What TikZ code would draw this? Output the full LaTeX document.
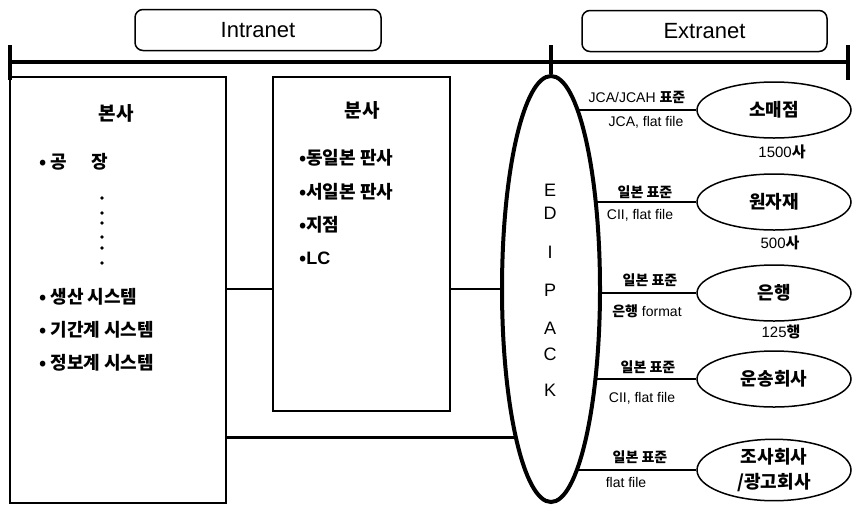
\documentclass[tikz,border=0pt]{standalone}
\usepackage{fontspec}
\setmainfont{Liberation Sans}
\newfontfamily\kr{Noto Sans CJK KR}
\newcommand{\kor}[1]{{\kr\bfseries #1}}
\usetikzlibrary{shapes.geometric}

\begin{document}
\begin{tikzpicture}[x=1pt,y=-1pt,
	netbox/.style={draw,line width=1.5pt,rounded corners=8pt,minimum width=246pt,minimum height=41pt,font=\fontsize{22}{24}\selectfont},
	site/.style={draw,line width=2pt,inner sep=0pt},
	bus/.style={line width=3.5pt},
	link/.style={line width=2.8pt},
	partner/.style={draw,ellipse,line width=1.5pt,minimum width=154pt,minimum height=56pt,inner sep=0pt,align=center,font=\kr\bfseries\fontsize{18}{25}\selectfont},
	head/.style={font=\kr\bfseries\fontsize{19}{22}\selectfont},
	item/.style={anchor=west,inner sep=0pt,font=\kr\bfseries\fontsize{18}{22}\selectfont},
	std/.style={inner sep=0pt,font=\kr\bfseries\fontsize{14}{16}\selectfont},
	fmt/.style={inner sep=0pt,font=\fontsize{14}{16}\selectfont},
	cnt/.style={inner sep=0pt,font=\fontsize{15}{17}\selectfont},
	edl/.style={inner sep=0pt,font=\fontsize{18}{20}\selectfont}]
	\useasboundingbox (0,0) rectangle (853,504);

	%network bus
	\coordinate (busL) at (10,62);
	\coordinate (busR) at (848,62);
	\draw[bus] (busL) -- (busR);
	\draw[bus] ([yshift=17pt]busL) -- ([yshift=-18pt]busL);
	\draw[bus] ([yshift=17pt]busR) -- ([yshift=-18pt]busR);
	\node[netbox] (intra) at (258,30) {Intranet};
	\node[netbox,minimum width=245pt] (extra) at (704.5,31) {Extranet};

	%boxes
	\node[site,minimum width=216pt,minimum height=426pt] (hq) at (118,290) {};
	\node[site,minimum width=177pt,minimum height=334pt] (br) at (361.5,244) {};
	\node[draw,ellipse,line width=4pt,minimum width=98pt,minimum height=426pt,inner sep=0pt] (edi) at (551,289) {};
	\draw[bus] (edi.north) -- ([yshift=17pt]edi.north |- busL);

	%partner ellipses
	\node[partner] (r1) at (774,110) {소매점};
	\node[partner] (r2) at (774,202) {원자재};
	\node[partner] (r3) at (774,293) {은행};
	\node[partner] (r4) at (774,379) {운송회사};
	\node[partner] (r5) at (774,470) {조사회사\\/광고회사};

	%connectors
	\draw[link] (hq.east |- edi.west) -- (br.west |- edi.west);
	\draw[link] (br.east |- edi.west) -- (edi.west);
	\draw[link] (hq.east |- edi.256) -- (edi.256);
	\foreach \p/\a in {r1/82,r2/63,r3/355,r4/296,r5/278}
		\draw[link] (\p.west) -- (\p.west -| edi.\a);

	%EDIPACK
	\foreach \ltr/\yy in {E/190,D/213,I/252,P/290,A/328,C/354,K/390}
		\node[edl] (edi-\ltr) at (550,\yy) {\ltr};

	%head office
	\node[head] (hq-title) at (116,113) {본사};
	\node[item] (hq-a) at (39,162) {• 공\hspace{1.35em}장};
	\foreach \yy in {198,213,223,237,248,263}
		\fill (102,\yy) circle (1.8pt);
	\node[item] (hq-b) at (39,297) {• 생산 시스템};
	\node[item] (hq-c) at (39,330) {• 기간계 시스템};
	\node[item] (hq-d) at (39,363) {• 정보계 시스템};

	%branches
	\node[head] (br-title) at (362,110) {분사};
	\node[item] (br-a) at (299,158) {•동일본 판사};
	\node[item] (br-b) at (299,192) {•서일본 판사};
	\node[item] (br-c) at (299,225) {•지점};
	\node[item] (br-d) at (299,258) {•\textbf{\rmfamily LC}};

	%link labels
	\node[fmt] (s1) at (637,97) {JCA/JCAH \kor{표준}};
	\node[fmt] (f1) at (646,122) {JCA, flat file};
	\node[std] (s2) at (645,192) {일본 표준};
	\node[fmt] (f2) at (640,215) {CII, flat file};
	\node[std] (s3) at (650,280) {일본 표준};
	\node[fmt] (f3) at (647,311) {\kor{은행} format};
	\node[std] (s4) at (648,367) {일본 표준};
	\node[fmt] (f4) at (642,398) {CII, flat file};
	\node[std] (s5) at (640,457) {일본 표준};
	\node[fmt] (f5) at (626,482) {flat file};

	%counts
	\node[cnt] (c1) at (782,152) {1500\kor{사}};
	\node[cnt] (c2) at (780,243) {500\kor{사}};
	\node[cnt] (c3) at (781,332) {125\kor{행}};
\end{tikzpicture}
\end{document}
